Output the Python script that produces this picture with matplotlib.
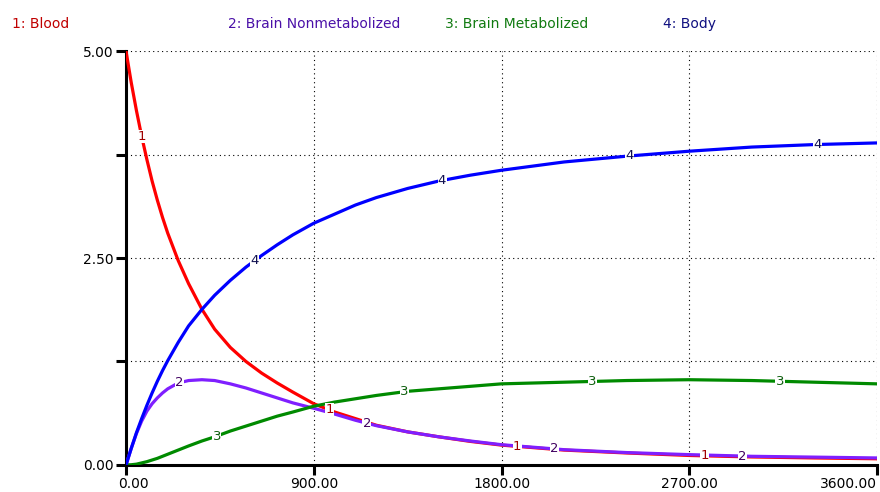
import numpy as np
import matplotlib
matplotlib.use('Agg')
import matplotlib.pyplot as plt
from matplotlib.transforms import ScaledTranslation

# time grid (seconds) and the four series
TIME = [0, 25, 50, 75, 100, 125, 150, 175, 200, 250, 300, 364, 425, 500, 575, 650,
        725, 800, 900, 1000, 1100, 1200, 1350, 1500, 1650, 1800, 2100, 2400, 2700,
        3000, 3300, 3600]

BLOOD = [5.0, 4.62, 4.28, 3.97, 3.69, 3.43, 3.2, 2.99, 2.8, 2.47, 2.19, 1.88, 1.64,
         1.42, 1.25, 1.11, 0.99, 0.88, 0.74, 0.64, 0.56, 0.48, 0.4, 0.34, 0.285,
         0.24, 0.18, 0.145, 0.115, 0.097, 0.085, 0.075]
BRAIN_NONMET = [0, 0.2, 0.38, 0.53, 0.65, 0.74, 0.81, 0.87, 0.92, 0.99, 1.02, 1.03,
                1.02, 0.98, 0.93, 0.87, 0.81, 0.75, 0.685, 0.615, 0.54, 0.475, 0.4,
                0.34, 0.29, 0.245, 0.185, 0.15, 0.125, 0.105, 0.095, 0.085]
BRAIN_MET = [0, 0.003, 0.01, 0.025, 0.04, 0.06, 0.08, 0.105, 0.13, 0.18, 0.23, 0.29,
             0.34, 0.41, 0.47, 0.53, 0.59, 0.64, 0.71, 0.76, 0.8, 0.84, 0.89, 0.92,
             0.95, 0.98, 1.0, 1.02, 1.03, 1.02, 1.0, 0.98]
BODY = [0, 0.2, 0.39, 0.56, 0.72, 0.87, 1.01, 1.14, 1.26, 1.48, 1.68, 1.88, 2.05,
        2.23, 2.39, 2.53, 2.66, 2.78, 2.92, 3.03, 3.14, 3.23, 3.34, 3.43, 3.5, 3.56,
        3.66, 3.73, 3.79, 3.84, 3.87, 3.89]

NAMES = ['1: Blood', '2: Brain Nonmetabolized', '3: Brain Metabolized', '4: Body']
X_TICKS = [0, 900, 1800, 2700, 3600]
X_LABELS = ['0.00', '900.00', '1800.00', '2700.00', '3600.00']
Y_TICKS = [0, 1.25, 2.5, 3.75, 5]
Y_LABELS = ['0.00', '', '2.50', '', '5.00']

series = [BLOOD, BRAIN_NONMET, BRAIN_MET, BODY]
line_colors = ['#ff0000', '#7f1fff', '#008a00', '#0000ff']
text_colors = ['#c00000', '#4a10a8', '#107a10', '#101080']
num_colors = ['#a00000', '#400060', '#106010', '#101050']

plt.rcParams['font.family'] = ['DejaVu Sans']

fig = plt.figure(figsize=(8.8, 4.92), dpi=100)
ax = fig.add_axes([0.1432, 0.0549, 0.8534, 0.8414])

for i, vals in enumerate(series):
    ax.plot(TIME, vals, color=line_colors[i], linewidth=2.3, zorder=3 + i)
    # STELLA style number markers along each curve
    for k in range(4):
        tl = 75 + 180 * i + 900 * k
        yl = np.interp(tl, TIME, vals)
        ax.text(tl, yl, str(i + 1), color=num_colors[i], fontsize=9.5,
                ha='center', va='center', zorder=10,
                bbox=dict(facecolor='white', edgecolor='none', pad=0.2))

ax.set_xlim(0, 3600)
ax.set_ylim(0, 5)

for s in ['top', 'right']:
    ax.spines[s].set_visible(False)
for s in ['left', 'bottom']:
    ax.spines[s].set_linewidth(2.2)
    ax.spines[s].set_color('black')

ax.set_xticks(X_TICKS)
ax.set_xticklabels(X_LABELS)
ax.set_yticks(Y_TICKS)
ax.set_yticklabels(Y_LABELS)
ax.tick_params(axis='both', length=7, width=2.2, labelsize=10, color='black', pad=2)
labs = ax.get_xticklabels()
labs[0].set_transform(labs[0].get_transform() + ScaledTranslation(0.07, 0, fig.dpi_scale_trans))
labs[-1].set_ha('right')

# dotted grid including the top and right edges
for gx in [900, 1800, 2700, 3600]:
    ax.axvline(gx, color='black', linestyle=(0, (1, 3)), linewidth=0.8, zorder=1)
for gy in [1.25, 2.5, 3.75, 5]:
    ax.axhline(gy, color='black', linestyle=(0, (1, 3)), linewidth=0.8, zorder=1)

# title row legend
legend_x = [12, 228, 445, 663]
for i in range(4):
    fig.text(legend_x[i] / 880, 1 - 24 / 492, NAMES[i], color=text_colors[i],
             fontsize=10, ha='left', va='center')

fig.savefig('out.png', dpi=100)
